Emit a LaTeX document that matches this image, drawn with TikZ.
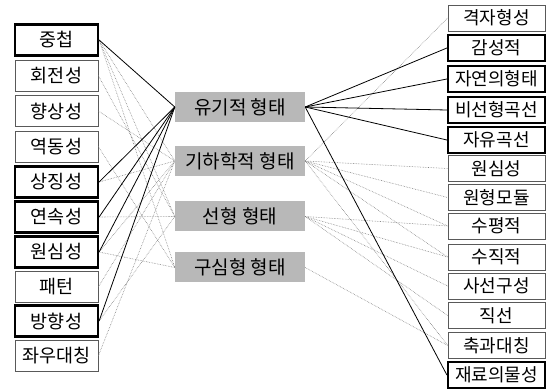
\documentclass[tikz,border=0pt]{standalone}
\usepackage{fontspec}
\setmainfont{Noto Sans CJK KR}
\begin{document}
\begin{tikzpicture}[x=1pt,y=-1pt,
  lbox/.style={draw=black!65,line width=0.7pt,minimum width=83pt,minimum height=31pt,inner sep=0pt,font=\fontsize{18.5}{18}\selectfont},
  rbox/.style={draw=black!65,line width=0.7pt,minimum width=97pt,minimum height=26pt,inner sep=0pt,font=\fontsize{18}{18}\selectfont},
  bold/.style={draw=black,line width=2.2pt},
  cbox/.style={fill=black!28,minimum width=130pt,minimum height=30pt,inner sep=0pt,font=\fontsize{19}{19}\selectfont},
  strong/.style={draw=black,line width=0.8pt},
  weak/.style={draw=black!50,line width=0.6pt,densely dotted}]
\useasboundingbox (0,0) rectangle (552,390);
% left boxes
\node[lbox,bold] (l1) at (56.5,40) {중첩};
\node[lbox] (l2) at (56.5,75.5) {회전성};
\node[lbox] (l3) at (56.5,111) {향상성};
\node[lbox] (l4) at (56.5,146.5) {역동성};
\node[lbox,bold] (l5) at (56.5,182) {상징성};
\node[lbox,bold] (l6) at (56.5,217) {연속성};
\node[lbox,bold] (l7) at (56.5,252) {원심성};
\node[lbox] (l8) at (56.5,287) {패턴};
\node[lbox,bold] (l9) at (56.5,321) {방향성};
\node[lbox] (l10) at (56.5,356) {좌우대칭};
% right boxes
\node[rbox] (r1) at (496.5,18) {격자형성};
\node[rbox,bold] (r2) at (496.5,48) {감성적};
\node[rbox,bold] (r3) at (496.5,79) {자연의형태};
\node[rbox,bold] (r4) at (496.5,110) {비선형곡선};
\node[rbox,bold] (r5) at (496.5,140) {자유곡선};
\node[rbox] (r6) at (496.5,168.5) {원심성};
\node[rbox] (r7) at (496.5,197.5) {원형모듈};
\node[rbox] (r8) at (496.5,226) {수평적};
\node[rbox] (r9) at (496.5,257) {수직적};
\node[rbox] (r10) at (496.5,286) {사선구성};
\node[rbox] (r11) at (496.5,315.5) {직선};
\node[rbox] (r12) at (496.5,345.5) {축과대칭};
\node[rbox,bold] (r13) at (496.5,375) {재료의물성};
% centre boxes
\node[cbox] (c1) at (240,107) {유기적\ 형태};
\node[cbox] (c2) at (240,161) {기하학적\ 형태};
\node[cbox] (c3) at (240,216.5) {선형\ 형태};
\node[cbox] (c4) at (240,267.5) {구심형\ 형태};
% weak connectors left
\foreach \a/\b in {l1/c2,l1/c3,l1/c4,l2/c3,l3/c2,l4/c4,l5/c2,l6/c3,l7/c2,l7/c4,l8/c2,l9/c3,l10/c2}
  \draw[weak] (\a.east) -- (\b.west);
% weak connectors right
\foreach \a/\b in {c2/r1,c2/r6,c2/r7,c2/r8,c2/r9,c3/r8,c3/r9,c3/r10,c3/r11,c4/r12,c2/r12}
  \draw[weak] (\a.east) -- (\b.west);
% strong connectors
\foreach \a in {l1,l5,l6,l7,l9}
  \draw[strong] (\a.east) -- (c1.west);
\foreach \b in {r2,r3,r4,r5,r13}
  \draw[strong] (c1.east) -- (\b.west);
\end{tikzpicture}
\end{document}
